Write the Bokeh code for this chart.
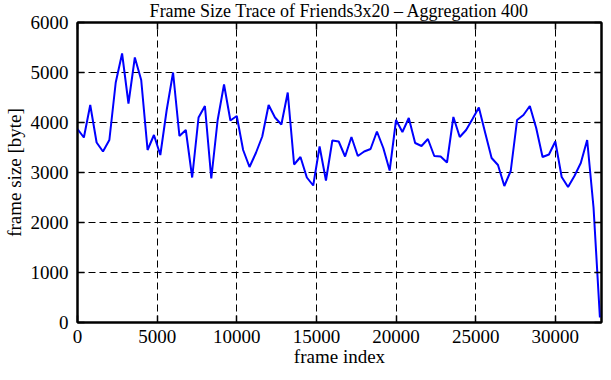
from bokeh.plotting import figure
from bokeh.models import Range1d, FixedTicker, LinearAxis
from bokeh.embed import file_html
from bokeh.resources import INLINE

# ---- data -----------------------------------------------------------------
frame_index = [
    0, 400, 800, 1200, 1600, 2000, 2400, 2800, 3200, 3600,
    4000, 4400, 4800, 5200, 5600, 6000, 6400, 6800, 7200, 7600,
    8000, 8400, 8800, 9200, 9600, 10000, 10400, 10800, 11200, 11600,
    12000, 12400, 12800, 13200, 13600, 14000, 14400, 14800, 15200, 15600,
    16000, 16400, 16800, 17200, 17600, 18000, 18400, 18800, 19200, 19600,
    20000, 20400, 20800, 21200, 21600, 22000, 22400, 22800, 23200, 23600,
    24000, 24400, 24800, 25200, 25600, 26000, 26400, 26800, 27200, 27600,
    28000, 28400, 28800, 29200, 29600, 30000, 30400, 30800, 31200, 31600,
    32000, 32400, 32800,
]
frame_size = [
    3870, 3700, 4350, 3600, 3420, 3650, 4800, 5380, 4380, 5300,
    4850, 3450, 3750, 3350, 4250, 5000, 3730, 3850, 2900, 4100,
    4330, 2880, 4050, 4760, 4040, 4130, 3450, 3110, 3390, 3720,
    4350, 4100, 3960, 4600, 3160, 3310, 2900, 2740, 3520, 2840,
    3640, 3620, 3320, 3710, 3330, 3420, 3470, 3820, 3490, 3040,
    4050, 3810, 4090, 3590, 3530, 3670, 3330, 3320, 3200, 4110,
    3710, 3850, 4070, 4300, 3790, 3290, 3150, 2730, 3030, 4050,
    4150, 4330, 3890, 3310, 3360, 3620, 2910, 2710, 2930, 3190,
    3650, 2300, 100,
]
x_ticks = [0, 5000, 10000, 15000, 20000, 25000, 30000]
y_ticks = [0, 1000, 2000, 3000, 4000, 5000, 6000]
title_text = "Frame Size Trace of Friends3x20 \u2013 Aggregation 400"
x_label = "frame index"
y_label = "frame size [byte]"

FONT = "Liberation Serif"
FS = "19px"

p = figure(width=603, height=372,
           x_range=Range1d(0, 32900), y_range=Range1d(0, 6000),
           output_backend="svg", toolbar_location=None,
           min_border_left=73, min_border_right=2,
           min_border_top=22, min_border_bottom=50)

p.title.text = title_text
p.title.text_font = FONT
p.title.text_font_size = "18px"
p.title.text_font_style = "normal"
p.title.text_color = "black"
p.title.align = "center"
p.title.vertical_align = "top"
p.title.standoff = 0
p.title.offset = 0

p.background_fill_color = "white"
p.border_fill_color = "white"
p.outline_line_color = "black"
p.outline_line_width = 2

p.line(frame_index, frame_size, line_color="#0000ff", line_width=2)

for ax, ticks in ((p.xaxis[0], x_ticks), (p.yaxis[0], y_ticks)):
    ax.ticker = FixedTicker(ticks=ticks)
    ax.major_tick_in = 7
    ax.major_tick_out = 0
    ax.minor_tick_in = 0
    ax.minor_tick_out = 0
    ax.axis_line_width = 2
    ax.major_tick_line_width = 1.5
    ax.major_label_text_font = FONT
    ax.major_label_text_font_size = FS
    ax.major_label_text_color = "black"
    ax.axis_label_text_font = FONT
    ax.axis_label_text_font_size = FS
    ax.axis_label_text_font_style = "normal"
    ax.axis_label_text_color = "black"

p.xaxis[0].axis_label = x_label
p.xaxis[0].major_label_standoff = 7
p.xaxis[0].axis_label_standoff = 0
p.yaxis[0].axis_label = y_label
p.yaxis[0].major_label_standoff = 9
p.yaxis[0].axis_label_standoff = 3

# mirrored tick marks on the top and right edges (no labels)
for side, ticks in (("above", x_ticks), ("right", y_ticks)):
    ax = LinearAxis(ticker=FixedTicker(ticks=ticks))
    ax.major_tick_in = 7
    ax.major_tick_out = 0
    ax.minor_tick_in = 0
    ax.minor_tick_out = 0
    ax.axis_line_width = 2
    ax.major_tick_line_width = 1.5
    ax.major_label_text_font_size = "0px"
    ax.major_label_text_color = None
    ax.major_label_standoff = 0
    p.add_layout(ax, side)

for g in (p.xgrid[0], p.ygrid[0]):
    g.grid_line_color = "black"
    g.grid_line_width = 1
    g.grid_line_dash = "7 4"

open("out.html", "w").write(file_html(p, INLINE))
